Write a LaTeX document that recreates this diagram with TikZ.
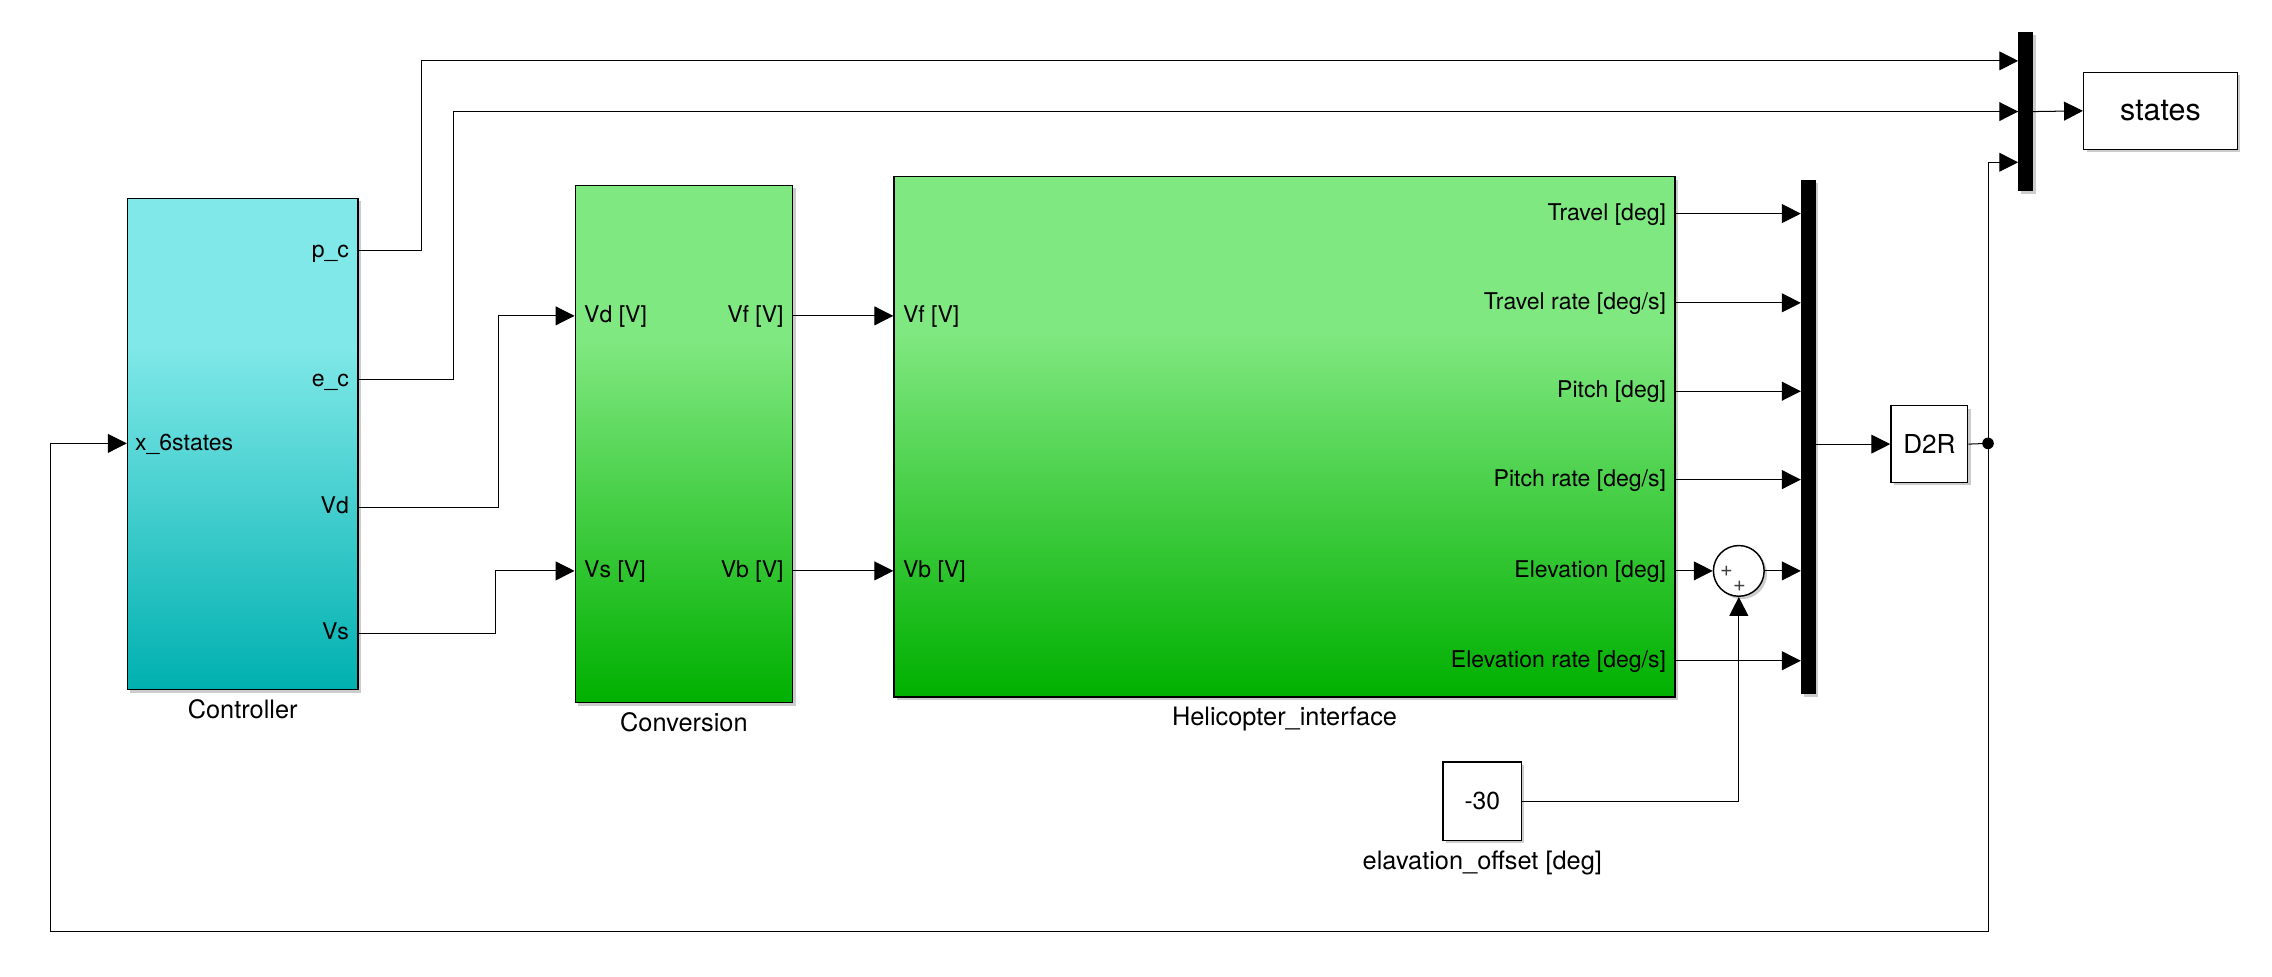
\documentclass[tikz,border=0pt]{standalone}
\usepackage{fontspec}
\setmainfont{TeX Gyre Heros}
\usetikzlibrary{
    arrows.meta,
    positioning,
    calc,
    shadows
}
\definecolor{ctrltop}{RGB}{128, 232, 232}
\definecolor{ctrlbot}{RGB}{0, 176, 176}
\definecolor{helitop}{RGB}{128, 232, 128}
\definecolor{helibot}{RGB}{0, 176, 0}
\pgfdeclareverticalshading{ctrlshade}{100bp}{color(0bp)=(ctrlbot); color(25bp)=(ctrlbot); color(60bp)=(ctrltop); color(100bp)=(ctrltop)}
\pgfdeclareverticalshading{helishade}{100bp}{color(0bp)=(helibot); color(25bp)=(helibot); color(60bp)=(helitop); color(100bp)=(helitop)}

\begin{document}
\begin{tikzpicture}[
        x=1pt, y=-1pt,
        block/.style={draw, line width=1pt, inner sep=0pt, fill=white,
            drop shadow={shadow xshift=2pt, shadow yshift=-2pt, fill=black, opacity=0.2}},
        muxbar/.style={fill=black, inner sep=0pt, minimum width=10pt,
            drop shadow={shadow xshift=2pt, shadow yshift=-2pt, fill=black, opacity=0.2}},
        inport/.style={anchor=west, inner sep=0pt, text height=12.4pt, text depth=3.2pt, font=\fontsize{15.9}{18}\selectfont},
        outport/.style={anchor=east, inner sep=0pt, text height=12.4pt, text depth=3.2pt, font=\fontsize{15.9}{18}\selectfont},
        caption/.style={anchor=north, inner sep=0pt, text height=13.1pt, text depth=3.9pt, font=\fontsize{17.5}{20}\selectfont},
        sign/.style={inner sep=0pt, text=black!75, font=\fontsize{15}{15}\selectfont},
        arrow/.style={->, line width=0.7pt, >={Triangle[length=13pt, width=13pt]}}
    ]
        \useasboundingbox (0,0) rectangle (1568,674);

        % Blocks
        \node[block, shading=ctrlshade, minimum width=159pt, minimum height=339pt] (ctrl) at (167.5, 306.5) {};
        \node[block, shading=helishade, minimum width=150pt, minimum height=357pt] (conv) at (472, 306.5) {};
        \node[block, shading=helishade, minimum width=539pt, minimum height=359pt] (heli) at (886.5, 301.5) {};
        \node[muxbar, minimum height=355pt] (mux1) at (1248, 301.5) {};
        \node[muxbar, minimum height=110pt] (mux2) at (1398, 77) {};
        \node[block, minimum width=53pt, minimum height=53pt, font=\fontsize{18}{20}\selectfont] (d2r) at (1331.5, 306.5) {D2R};
        \node[block, minimum width=106pt, minimum height=53pt, font=\fontsize{21}{24}\selectfont] (states) at (1491, 76.5) {states};
        \node[block, minimum width=54pt, minimum height=54pt, font=\fontsize{17}{20}\selectfont] (offset) at (1023, 553) {-30};
        \node[block, circle, minimum size=35pt] (sum) at (1200, 394) {};
        \node[sign] (plusa) at (1191.5, 394.5) {+};
        \node[sign] (plusb) at (1200.5, 404.5) {+};

        % Block names
        \node[caption] (ctrlname) at ($(ctrl.south)+(0,6)$) {Controller};
        \node[caption] (convname) at ($(conv.south)+(0,6)$) {Conversion};
        \node[caption] (heliname) at ($(heli.south)+(0,6)$) {Helicopter\_interface};
        \node[caption] (offsetname) at ($(offset.south)+(0,6)$) {elavation\_offset [deg]};

        % Ports
        \node[inport] (xin) at (93, 306) {x\_6states};
        \node[outport] (pc) at (241, 173) {p\_c};
        \node[outport] (ec) at (241, 262) {e\_c};
        \node[outport] (vd) at (241, 350) {Vd};
        \node[outport] (vs) at (241, 437) {Vs};

        \node[inport] (vdin) at (403, 218) {Vd [V]};
        \node[inport] (vsin) at (403, 394) {Vs [V]};
        \node[outport] (vfout) at (541, 218) {Vf [V]};
        \node[outport] (vbout) at (541, 394) {Vb [V]};

        \node[inport] (vfin) at (623, 218) {Vf [V]};
        \node[inport] (vbin) at (623, 394) {Vb [V]};
        \node[outport] (trav) at (1150, 147.4) {Travel [deg]};
        \node[outport] (travr) at (1150, 209) {Travel rate [deg/s]};
        \node[outport] (pitch) at (1150, 270) {Pitch [deg]};
        \node[outport] (pitchr) at (1150, 331) {Pitch rate [deg/s]};
        \node[outport] (elev) at (1150, 394) {Elevation [deg]};
        \node[outport] (elevr) at (1150, 456) {Elevation rate [deg/s]};

        \coordinate (junc) at (1372, 306);

        % Arrows
        \draw[arrow] (ctrl.east |- pc) -| (291, 42) -- (mux2.west |- 0, 42);
        \draw[arrow] (ctrl.east |- ec) -| (313, 77) -- (mux2.west);
        \draw[arrow] (ctrl.east |- vd) -| (344, 218) -- (conv.west |- vdin);
        \draw[arrow] (ctrl.east |- vs) -| (342, 394) -- (conv.west |- vsin);

        \draw[arrow] (conv.east |- vfout) -- (heli.west |- vfin);
        \draw[arrow] (conv.east |- vbout) -- (heli.west |- vbin);

        \draw[arrow] (heli.east |- trav) -- (mux1.west |- trav);
        \draw[arrow] (heli.east |- travr) -- (mux1.west |- travr);
        \draw[arrow] (heli.east |- pitch) -- (mux1.west |- pitch);
        \draw[arrow] (heli.east |- pitchr) -- (mux1.west |- pitchr);
        \draw[arrow] (heli.east |- elev) -- (sum.west);
        \draw[arrow] (sum.east) -- (mux1.west |- sum);
        \draw[arrow] (heli.east |- elevr) -- (mux1.west |- elevr);
        \draw[arrow] (offset.east) -| (sum.south);

        \draw[arrow] (mux1.east |- d2r) -- (d2r.west);
        \draw[line width=0.7pt] (d2r.east) -- (junc);
        \fill (junc) circle (4pt);
        \draw[arrow] (junc) |- (mux2.west |- 0, 112);
        \draw[arrow] (junc) |- (35, 643) |- (ctrl.west |- xin);
        \draw[arrow] (mux2.east) -- (states.west);
    \end{tikzpicture}
\end{document}
